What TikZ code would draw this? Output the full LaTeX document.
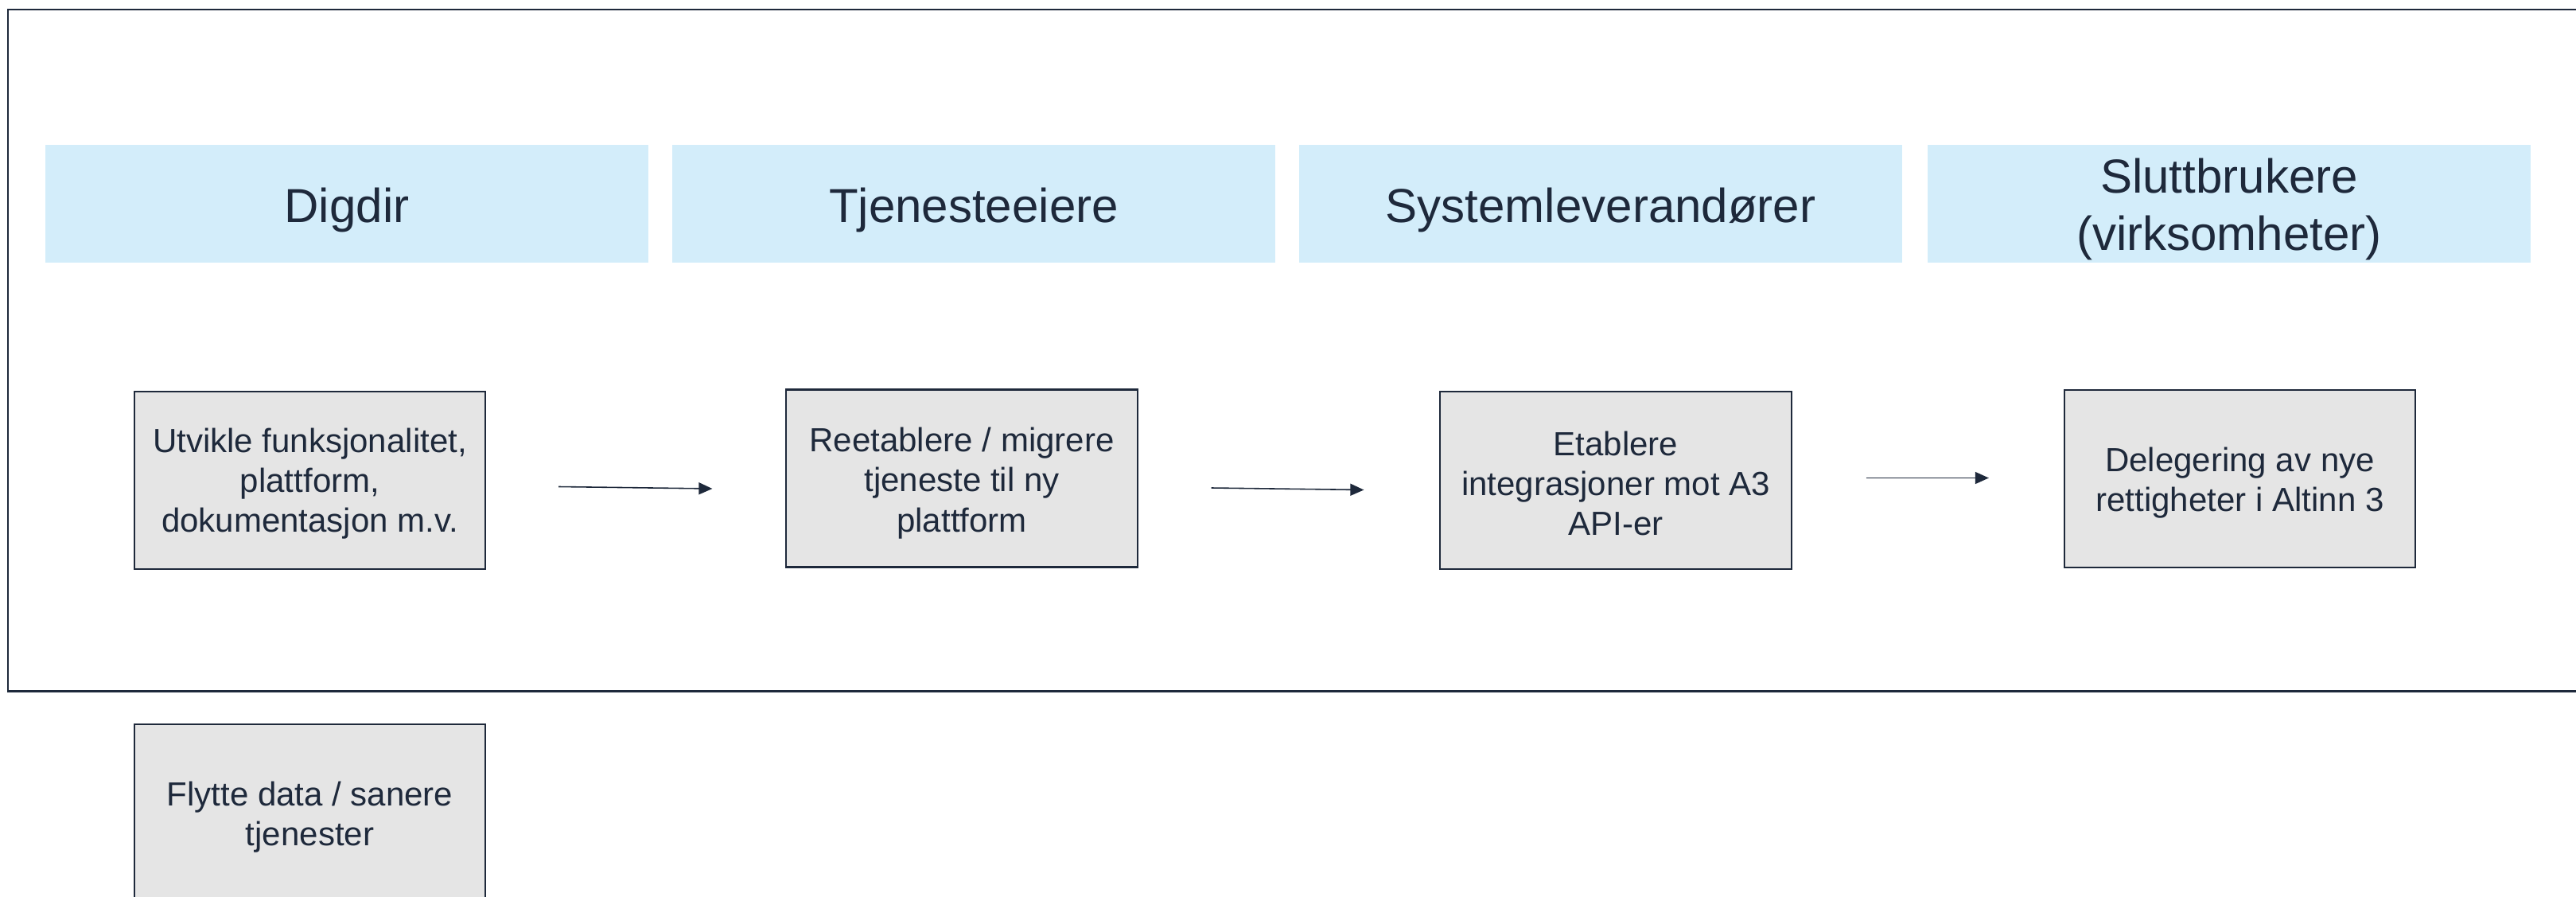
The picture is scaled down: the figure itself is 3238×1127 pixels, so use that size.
\documentclass[tikz,border=0pt]{standalone}
\usepackage{fontspec}
\setmainfont{Liberation Sans}
\usetikzlibrary{arrows.meta,calc}
\definecolor{navy}{RGB}{30,41,59}
\definecolor{hdrblue}{RGB}{211,237,250}
\definecolor{boxgray}{RGB}{229,229,229}
\tikzset{
  hdr/.style={fill=hdrblue, minimum width=7.58cm, minimum height=1.48cm, inner sep=0pt, outer sep=0pt},
  hdrtext/.style={inner sep=0pt, text=navy, font=\fontsize{17.07pt}{20.5pt}\selectfont, align=center},
  stepbox/.style={draw=navy, line width=0.63pt, fill=boxgray, minimum width=4.41cm, minimum height=2.23cm, inner sep=0pt, outer sep=0pt},
  steptext/.style={inner sep=0pt, text=navy, font=\fontsize{11.95pt}{14.3pt}\selectfont, align=center},
  flow/.style={draw=navy, line width=0.45pt, -{Triangle[length=0.17cm,width=0.15cm]}},
  framebox/.style={draw=navy, line width=0.85pt}
}
\begin{document}
\begin{tikzpicture}[x=0.01cm,y=-0.01cm]
\useasboundingbox (0,0) rectangle (3238,1127);
\fill[white] (0,0) rectangle (3238,1127);
\draw[framebox] (10,12) rectangle (3300,868);
% headers
\node[hdr] (h1) at (436,256) {};
\node[hdr] (h2) at (1224,256) {};
\node[hdr] (h3) at (2012,256) {};
\node[hdr] (h4) at (2802,256) {};
\node[hdrtext] (t1) at ($(h1)+(0,8)$) {Digdir};
\node[hdrtext] (t2) at ($(h2)+(0,8)$) {Tjenesteeiere};
\node[hdrtext] (t3) at ($(h3)+(0,8)$) {Systemleverandører};
\node[hdrtext] (t4) at ($(h4)+(0,7)$) {Sluttbrukere\\(virksomheter)};
% steps
\node[stepbox] (b1) at (389.5,603.5) {};
\node[stepbox] (b2) at (1209,601) {};
\node[stepbox] (b3) at (2031,603.5) {};
\node[stepbox] (b4) at (2815.5,601.5) {};
\node[stepbox] (b5) at (389.5,1021.5) {};
\node[steptext] (s1) at ($(b1)+(0,4)$) {Utvikle funksjonalitet,\\plattform,\\dokumentasjon m.v.};
\node[steptext] (s2) at ($(b2)+(0,6)$) {Reetablere / migrere\\tjeneste til ny\\plattform};
\node[steptext] (s3) at ($(b3)+(0,4)$) {Etablere\\integrasjoner mot A3\\API-er};
\node[steptext] (s4) at ($(b4)+(0,5)$) {Delegering av nye\\rettigheter i Altinn 3};
\node[steptext] (s5) at ($(b5)+(0,5)$) {Flytte data / sanere\\tjenester};
% arrows
\draw[flow] ($(b1.east)+(92,8)$) -- ($(b2.west)+(-93,13)$);
\draw[flow] ($(b2.east)+(93,12)$) -- ($(b3.west)+(-96,12)$);
\draw[flow] ($(b3.east)+(94,-3)$) -- ($(b4.west)+(-95,-1)$);
\end{tikzpicture}
\end{document}
